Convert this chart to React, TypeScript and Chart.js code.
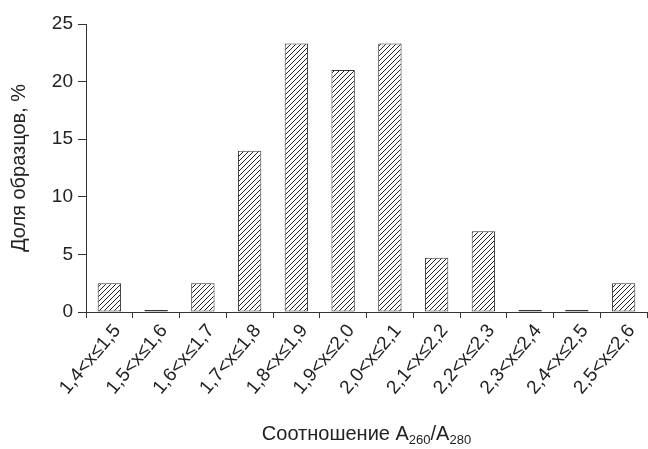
import React, { useEffect, useRef } from 'react';
import { Chart, registerables } from 'chart.js';

Chart.register(...registerables);

const categories = [
  '1,4<x≤1,5', '1,5<x≤1,6', '1,6<x≤1,7', '1,7<x≤1,8', '1,8<x≤1,9', '1,9<x≤2,0',
  '2,0<x≤2,1', '2,1<x≤2,2', '2,2<x≤2,3', '2,3<x≤2,4', '2,4<x≤2,5', '2,5<x≤2,6',
];
const shares = [2.5, 0, 2.5, 14, 23.3, 21, 23.3, 4.7, 7, 0, 0, 2.5];
const yMin = 0;
const yMax = 25;
const yStep = 5;
const yTitle = 'Доля образцов, %';
const xTitleParts: [string, boolean][] = [
  ['Соотношение A', false],
  ['260', true],
  ['/A', false],
  ['280', true],
];

const FONT = '"Liberation Sans", Arial, sans-serif';
const INK = '#222';

function makeHatch(): CanvasPattern | string {
  const c = document.createElement('canvas');
  const s = 5;
  c.width = s;
  c.height = s;
  const g = c.getContext('2d');
  if (!g) return '#fff';
  g.fillStyle = '#fff';
  g.fillRect(0, 0, s, s);
  g.strokeStyle = '#222';
  g.lineWidth = 1;
  g.beginPath();
  g.moveTo(-1, s + 1);
  g.lineTo(s + 1, -1);
  g.moveTo(-1, 1);
  g.lineTo(1, -1);
  g.moveTo(s - 1, s + 1);
  g.lineTo(s + 1, s - 1);
  g.stroke();
  const p = g.createPattern(c, 'repeat');
  return p || '#fff';
}

const xTitlePlugin = {
  id: 'xTitleSub',
  afterDraw(chart: any) {
    const ctx = chart.ctx as CanvasRenderingContext2D;
    const area = chart.chartArea;
    const mainFont = `20px ${FONT}`;
    const subFont = `13px ${FONT}`;
    ctx.save();
    let total = 0;
    for (const [t, sub] of xTitleParts) {
      ctx.font = sub ? subFont : mainFont;
      total += ctx.measureText(t).width;
    }
    let x = (area.left + area.right) / 2 - total / 2;
    const base = 440;
    ctx.fillStyle = INK;
    ctx.textBaseline = 'alphabetic';
    ctx.textAlign = 'left';
    for (const [t, sub] of xTitleParts) {
      ctx.font = sub ? subFont : mainFont;
      ctx.fillText(t, x, sub ? base + 4 : base);
      x += ctx.measureText(t).width;
    }
    ctx.restore();
  },
};

export default function App() {
  const ref = useRef<HTMLCanvasElement | null>(null);

  useEffect(() => {
    if (!ref.current) return;
    const hatch = makeHatch();
    const chart = new Chart(ref.current, {
      type: 'bar',
      data: {
        labels: categories,
        datasets: [
          {
            data: shares,
            backgroundColor: hatch as any,
            borderColor: '#333',
            borderWidth: 1,
            borderSkipped: false,
            minBarLength: 2,
            barPercentage: 0.5,
            categoryPercentage: 1,
          },
        ],
      },
      options: {
        responsive: false,
        animation: false,
        devicePixelRatio: 1,
        layout: { padding: { top: 24, right: 1, left: 0, bottom: 0 } },
        plugins: {
          legend: { display: false },
          tooltip: { enabled: false },
        },
        scales: {
          x: {
            grid: {
              offset: true,
              drawOnChartArea: false,
              drawTicks: true,
              tickLength: 6,
              color: '#333',
            },
            border: { display: true, color: '#333', width: 1 },
            ticks: {
              autoSkip: false,
              maxRotation: 50,
              minRotation: 50,
              color: INK,
              font: { family: FONT, size: 19 },
              padding: 2,
              labelOffset: 8,
            },
            afterFit(scale: any) {
              scale.height = 137;
            },
          },
          y: {
            min: yMin,
            max: yMax,
            grid: {
              drawOnChartArea: false,
              drawTicks: true,
              tickLength: 8,
              color: '#333',
            },
            border: { display: true, color: '#333', width: 1 },
            ticks: {
              stepSize: yStep,
              color: INK,
              font: { family: FONT, size: 19 },
              padding: 5,
            },
            title: {
              display: true,
              text: yTitle,
              color: INK,
              font: { family: FONT, size: 20 },
              padding: { top: 7, bottom: 0 },
            },
            afterFit(scale: any) {
              scale.width = 86;
            },
          },
        },
      },
      plugins: [xTitlePlugin],
    });
    return () => chart.destroy();
  }, []);

  return (
    <div style={{ position: 'absolute', left: 0, top: 0, width: 648, height: 449, background: '#fff' }}>
      <canvas ref={ref} width={648} height={449} style={{ display: 'block' }} />
    </div>
  );
}
